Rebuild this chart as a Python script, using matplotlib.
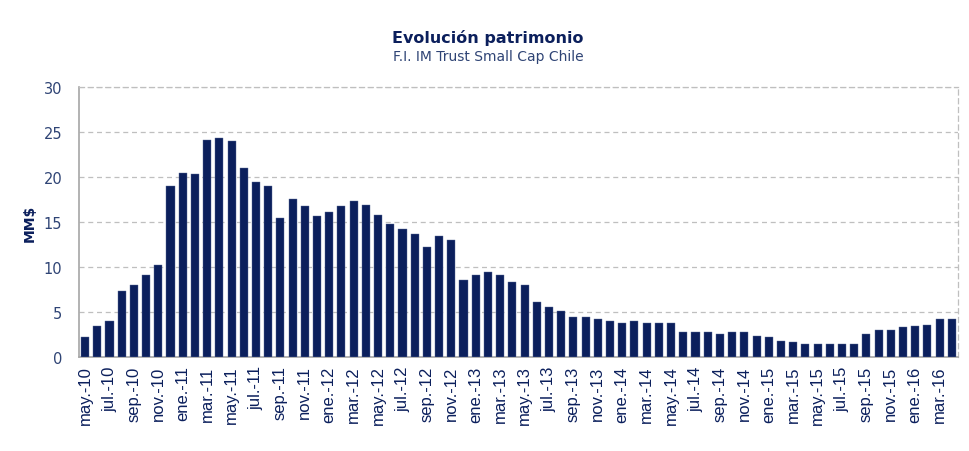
import matplotlib
matplotlib.use("Agg")
import matplotlib.pyplot as plt
import numpy as np

# month labels, may-10 .. apr-16
meses = ["ene", "feb", "mar", "abr", "may", "jun", "jul", "ago", "sep", "oct", "nov", "dic"]
periodos = []
for i in range(72):
    m = (4 + i) % 12
    a = 10 + (4 + i) // 12
    periodos.append(f"{meses[m]}.-{a}")

# patrimonio en MM$
patrimonio = [2.2, 3.5, 4.0, 7.3, 8.0, 9.1, 10.2, 19.0, 20.4, 20.3,
              24.1, 24.3, 24.0, 21.0, 19.4, 19.0, 15.5, 17.6, 16.8, 15.7,
              16.1, 16.8, 17.3, 16.9, 15.8, 14.8, 14.2, 13.7, 12.2, 13.5,
              13.0, 8.6, 9.1, 9.5, 9.1, 8.3, 8.0, 6.1, 5.6, 5.1,
              4.4, 4.4, 4.2, 4.0, 3.8, 3.95, 3.8, 3.8, 3.8, 2.75,
              2.8, 2.8, 2.6, 2.75, 2.8, 2.35, 2.2, 1.8, 1.65, 1.45,
              1.45, 1.4, 1.4, 1.4, 2.55, 3.05, 3.05, 3.35, 3.45, 3.55,
              4.2, 4.25]

navy = "#0B1F5C"
tick_col = "#2F4475"

fig = plt.figure(figsize=(9.7, 4.52), dpi=100)
ax = fig.add_axes([0.0814, 0.208, 0.9062, 0.597])

x = np.arange(len(periodos))
ax.bar(x, patrimonio, width=0.66, color=navy, edgecolor="#5A6A96", linewidth=0.3, zorder=3)

ax.set_xlim(-0.5, len(periodos) - 0.5)
ax.set_ylim(0, 30)
ax.set_yticks(range(0, 31, 5))
ax.yaxis.grid(True, linestyle=(0, (4, 3)), color="#BFBFBF", linewidth=0.9, zorder=0)

ax.set_xticks(x[::2])
ax.set_xticklabels(periodos[::2], rotation=90, fontsize=12, color=navy,
                   family="Liberation Sans")
for lab in ax.get_yticklabels():
    lab.set_fontsize(10.5)
    lab.set_color(tick_col)
    lab.set_family("DejaVu Sans")
ax.tick_params(axis="both", length=0)
ax.tick_params(axis="y", pad=12)
ax.tick_params(axis="x", pad=6)

for s in ["left", "bottom"]:
    ax.spines[s].set_color("#A6A6A6")
    ax.spines[s].set_linewidth(1.2)
for s in ["top", "right"]:
    ax.spines[s].set_color("#BFBFBF")
    ax.spines[s].set_linestyle((0, (4, 3)))
    ax.spines[s].set_linewidth(0.9)

ax.set_ylabel("MM$", fontsize=10, fontweight="bold", color=navy, labelpad=5)

fig.text(0.503, 0.915, "Evolución patrimonio", ha="center", va="center",
         fontsize=11.5, fontweight="bold", color=navy)
fig.text(0.503, 0.873, "F.I. IM Trust Small Cap Chile", ha="center", va="center",
         fontsize=10, color=tick_col)

fig.savefig("out.png", dpi=100)
